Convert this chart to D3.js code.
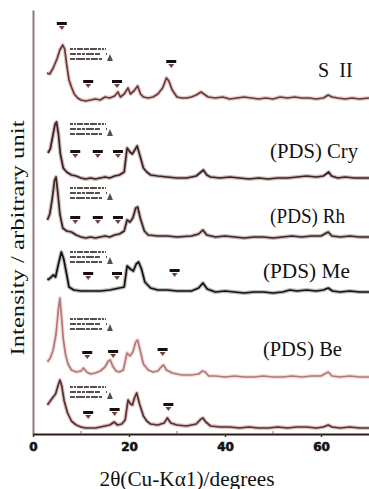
<!DOCTYPE html>
<html>
<head>
<meta charset="utf-8">
<script src="https://cdn.jsdelivr.net/npm/d3@7"></script>
<style>
  body { margin: 0; background: #fff; }
  svg { display: block; }
</style>
</head>
<body>
<svg id="chart" width="369" height="489"></svg>
<script>
// 2theta (degrees) vs stacked intensity (arbitrary units, offsets already applied)
const sampleNames = ['S  II', '(PDS) Cry', '(PDS) Rh', '(PDS) Me', '(PDS) Be', ''];
const sampleColors = ['#6e3636', '#3e2323', '#3e2525', '#151111', '#b87676', '#5c2f2f'];
const haloColors = ['#c9a3a3', '#a58585', '#a58787', '#8a8080', '#e3c3c3', '#b99595'];

const traceSII = [[2.9, 361], [3.5, 360], [4.2, 366], [5, 375], [5.6, 384], [6.2, 389], [6.6, 385], [7, 370], [7.5, 354], [8, 347], [8.6, 340], [9.3, 336], [10, 334], [11, 333], [12, 334], [13, 335], [14, 334], [15, 337], [16, 336], [17, 338], [17.7, 342], [18.2, 337], [19, 340], [19.8, 346], [20.3, 340], [21, 343], [21.8, 348], [22.4, 340], [23, 337], [24, 336], [25, 337], [26, 340], [27, 346], [27.8, 356], [28.3, 353], [29, 344], [30, 337], [31, 336], [32, 336], [33, 337], [34, 339], [35, 342], [35.6, 340], [36.5, 337], [38, 336], [39.5, 337], [41, 335], [42.5, 336], [44, 337], [45.5, 336], [47, 335], [48.5, 336], [50, 335], [51.5, 337], [53, 336], [54.5, 337], [56, 336], [57.5, 336], [59, 335], [60.5, 336], [61.5, 339], [62.3, 337], [63.5, 336], [65, 335], [66.5, 336], [68, 335], [70, 336]];
const traceCry = [[3.1, 281], [3.6, 285], [4.2, 300], [4.6, 310], [4.9, 312], [5.3, 300], [5.7, 280], [6.3, 266], [7, 262], [8, 259], [9, 258], [10, 256], [11, 255], [12, 256], [13, 255], [14, 256], [15, 257], [16, 256], [17, 258], [18, 259], [19, 262], [19.6, 286], [20.2, 282], [20.7, 280], [21.2, 284], [21.7, 288], [22.3, 278], [23, 266], [23.7, 262], [24.5, 259], [26, 258], [28, 257], [30, 256], [32, 256], [34, 258], [35, 262], [35.5, 264], [36.2, 259], [37, 257], [39, 256], [41, 257], [43, 256], [45, 255], [47, 256], [49, 255], [51, 256], [53, 256], [55, 257], [57, 258], [59, 257], [60.5, 258], [61.6, 262], [62.2, 258], [63.5, 256], [65, 257], [67, 256], [70, 256]];
const traceRh = [[3, 214], [3.5, 220], [4, 235], [4.5, 254], [4.8, 257], [5.2, 240], [5.6, 220], [6.2, 206], [7, 203], [8, 202], [9, 199], [10, 197], [11, 196], [12, 197], [13, 196], [14, 197], [15, 198], [16, 197], [17, 199], [18, 200], [19, 203], [19.6, 214], [20.2, 212], [20.8, 216], [21.4, 226], [21.8, 227], [22.4, 215], [23.2, 203], [24, 199], [26, 198], [28, 198], [30, 197], [33, 198], [34.5, 200], [35.4, 204], [36.2, 199], [38, 197], [40, 198], [42, 197], [44, 196], [46, 197], [48, 197], [50, 196], [52, 197], [54, 198], [56, 197], [58, 198], [60, 198], [61.5, 202], [62.3, 198], [64, 197], [66, 198], [68, 197], [70, 197]];
const traceMe = [[3, 154], [3.6, 156], [4.2, 159], [4.7, 157], [5.3, 170], [5.9, 182], [6.4, 175], [7, 160], [7.5, 147], [8.5, 144], [10, 143], [12, 143], [14, 143], [16, 144], [17, 145], [18, 146], [19, 147], [19.6, 168], [20.3, 165], [20.9, 163], [21.5, 170], [22, 172], [22.6, 165], [23.3, 152], [24.5, 146], [26, 144], [28, 144], [30, 143], [33, 143], [34.5, 146], [35.4, 151], [36.3, 145], [38, 142], [40, 143], [42, 142], [44, 141], [46, 142], [48, 142], [50, 141], [52, 142], [53.5, 144], [55, 143], [57, 144], [59, 143], [60.5, 144], [61.5, 146], [62.4, 143], [64, 142], [66, 143], [68, 142], [70, 142]];
const traceBe = [[3, 72], [3.6, 76], [4.2, 84], [4.8, 100], [5.3, 125], [5.6, 136], [5.9, 120], [6.3, 95], [6.8, 79], [7.3, 70], [8, 64], [9, 62], [10, 63], [10.5, 66], [11.2, 62], [12, 60], [13, 61], [14, 63], [15, 67], [15.7, 73], [16.1, 74], [16.6, 68], [17.3, 63], [18, 62], [18.8, 64], [19.6, 81], [20.2, 78], [20.8, 82], [21.4, 92], [21.8, 94], [22.4, 82], [23, 70], [24, 64], [25, 62], [26, 63], [26.7, 67], [27.2, 69], [27.8, 64], [29, 61], [31, 59], [33, 59], [34.5, 60], [35.3, 63], [35.9, 62], [36.6, 58], [38, 58], [40, 57], [42, 58], [44, 57], [46, 57], [48, 58], [50, 57], [52, 57], [54, 58], [56, 57], [58, 58], [60, 58], [61.5, 62], [62.3, 58], [64, 57], [66, 58], [68, 57], [70, 57]];
const traceBottom = [[3, 29], [3.6, 33], [4.2, 37], [4.7, 40], [5.2, 48], [5.6, 54], [6, 48], [6.5, 33], [7.2, 21], [8, 13], [9, 9], [10, 7], [11, 6], [12, 6], [13, 6], [14, 7], [15, 8], [16, 9], [16.9, 12], [17.6, 9], [18.5, 10], [19.2, 14], [19.8, 34], [20.3, 30], [20.7, 29], [21.2, 37], [21.6, 41], [22.2, 30], [23, 18], [23.7, 13], [24.5, 10], [26, 9], [27.3, 11], [28, 16], [28.7, 11], [30, 9], [32, 8], [34, 10], [35, 15], [35.4, 16], [36, 12], [37, 8], [39, 7], [41, 7], [43, 6], [45, 7], [47, 6], [49, 6], [51, 7], [53, 6], [55, 7], [57, 7], [59, 6], [60.5, 7], [61.5, 9], [62.3, 7], [64, 6], [66, 7], [68, 6], [70, 6]];
const traces = [traceSII, traceCry, traceRh, traceMe, traceBe, traceBottom];

// reflection markers (2theta, intensity at bar)
const markersSII = [[6.0, 410], [11.5, 352], [17.5, 352], [28.8, 372]];
const markersCry = [[8.8, 282], [13.5, 282], [17.7, 282]];
const markersRh = [[8.8, 216], [13.5, 216], [17.7, 216]];
const markersMe = [[11.5, 160], [17.5, 160], [29.5, 163]];
const markersBe = [[11.3, 81], [16.7, 82], [27.0, 84]];
const markersBottom = [[11.5, 21], [17.0, 24], [28.2, 29]];
const markers = [markersSII, markersCry, markersRh, markersMe, markersBe, markersBottom];

// small index-note blocks next to the first peak (top-left corner)
const notePos = [[7.7, 386], [7.7, 311], [7.7, 247], [7.7, 183], [7.7, 116], [7.7, 48]];

// sample labels: start 2theta, baseline intensity, text width
const labelPos = [[59.4, 357], [49.4, 276], [49.4, 211], [47.9, 156], [47.9, 78], null];
const labelWidth = [null, 88, 75, 87, 79, null];

const xTicks = [0, 20, 40, 60];
const xMinorTicks = [10, 30, 50];

const serif = '"Liberation Serif", "Times New Roman", Times, serif';

const svg = d3.select('#chart');
const x = d3.scaleLinear().domain([0, 70]).range([33, 369]);
const y = d3.scaleLinear().domain([0, 424]).range([434, 10]);

// axes
svg.append('g')
  .attr('transform', `translate(${x(0)},0)`)
  .call(d3.axisLeft(y).tickValues([]).tickSizeOuter(0))
  .call(g => g.select('.domain').attr('stroke', '#8c7c7c').attr('stroke-width', 2));

const xAxis = svg.append('g')
  .attr('transform', `translate(0,${y(0)})`)
  .call(d3.axisBottom(x).tickValues(xTicks).tickSize(3).tickSizeOuter(0).tickPadding(5));
xAxis.select('.domain').attr('stroke', '#2a1a1a').attr('stroke-width', 2);
xAxis.selectAll('.tick line').attr('stroke', '#333').attr('stroke-width', 1.5);
xAxis.selectAll('.tick text')
  .style('font-family', '"DejaVu Sans", Arial, sans-serif')
  .style('font-weight', 'bold')
  .style('font-size', '12px')
  .attr('fill', '#111')
  .attr('stroke', '#111').attr('stroke-width', 0.6);

svg.append('g')
  .selectAll('line')
  .data(xMinorTicks)
  .join('line')
  .attr('x1', d => x(d)).attr('x2', d => x(d))
  .attr('y1', y(0) - 3).attr('y2', y(0))
  .attr('stroke', '#777').attr('stroke-width', 1);

// traces
const line = d3.line().x(d => x(d[0])).y(d => y(d[1]));
traces.forEach((t, i) => {
  svg.append('path').datum(t)
    .attr('d', line).attr('fill', 'none')
    .attr('stroke', haloColors[i]).attr('stroke-width', 4).attr('opacity', 0.55)
    .attr('stroke-linejoin', 'round');
  svg.append('path').datum(t)
    .attr('d', line).attr('fill', 'none')
    .attr('stroke', sampleColors[i]).attr('stroke-width', 1.7)
    .attr('stroke-linejoin', 'round');
});

// markers: bar with small down-pointing triangle
markers.forEach(m => {
  const g = svg.append('g').selectAll('g').data(m).join('g')
    .attr('transform', d => `translate(${x(d[0])},${y(d[1])})`);
  g.append('rect').attr('x', -5).attr('y', -2).attr('width', 10).attr('height', 3).attr('fill', '#141010');
  g.append('path').attr('d', 'M-3,2L3,2L0,6Z').attr('fill', '#7a4040');
});

// note blocks (illegible hkl notes)
const rows = [
  {dy: 1, dash: '3 1 2 1 6 1 5 1 7 1', len: 36},
  {dy: 6, dash: '6 1 4 1 3 1 8 1 5', len: 38},
  {dy: 11, dash: '5 1 9 1 4 1 7 1 3', len: 36}
];
notePos.forEach(p => {
  const g = svg.append('g').attr('transform', `translate(${x(p[0])},${y(p[1])})`);
  g.selectAll('line').data(rows).join('line')
    .attr('x1', 0).attr('x2', r => r.len)
    .attr('y1', r => r.dy).attr('y2', r => r.dy)
    .attr('stroke', '#3a3030').attr('stroke-width', 2.2)
    .attr('stroke-dasharray', r => r.dash).attr('opacity', 0.85);
  g.append('path').attr('d', 'M37,13L43,13L40,6Z').attr('fill', '#3a3030').attr('opacity', 0.85);
});

// sample labels
sampleNames.forEach((name, i) => {
  if (!labelPos[i]) return;
  const t = svg.append('text')
    .attr('x', x(labelPos[i][0])).attr('y', y(labelPos[i][1]))
    .style('font-family', serif)
    .style('font-size', '20px')
    .style('white-space', 'pre')
    .attr('fill', '#111')
    .text(name);
  if (labelWidth[i]) t.attr('textLength', labelWidth[i]).attr('lengthAdjust', 'spacingAndGlyphs');
});

// axis titles
svg.append('text')
  .attr('x', 187).attr('y', 486)
  .attr('text-anchor', 'middle')
  .style('font-family', serif)
  .style('font-size', '20px')
  .attr('fill', '#111')
  .attr('textLength', 175).attr('lengthAdjust', 'spacingAndGlyphs')
  .text('2θ(Cu-Kα1)/degrees');

svg.append('text')
  .attr('transform', 'translate(24,238) rotate(-90)')
  .attr('text-anchor', 'middle')
  .style('font-family', serif)
  .style('font-size', '19px')
  .attr('fill', '#111')
  .attr('textLength', 235).attr('lengthAdjust', 'spacingAndGlyphs')
  .text('Intensity / arbitrary unit');
</script>
</body>
</html>
